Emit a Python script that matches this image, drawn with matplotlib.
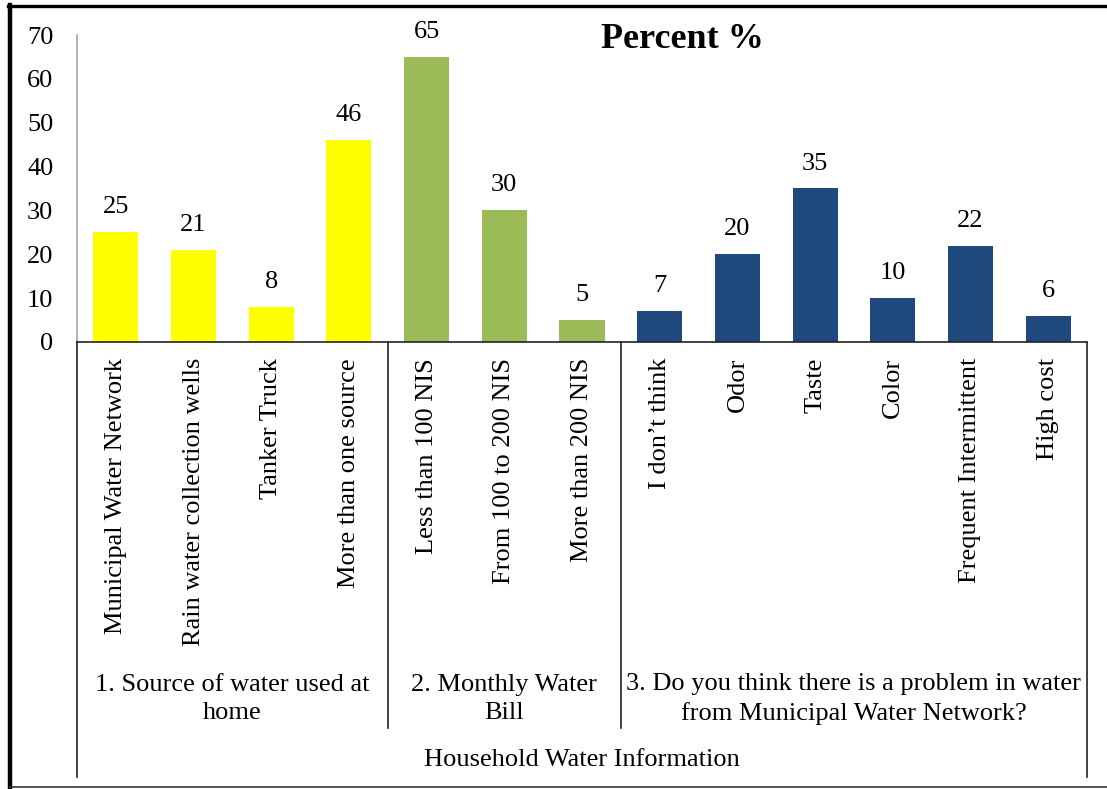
import matplotlib
matplotlib.use("Agg")
import matplotlib.pyplot as plt
import matplotlib.transforms as mtransforms
from matplotlib.lines import Line2D
import numpy as np

plt.rcParams["font.family"] = ["Liberation Serif", "DejaVu Serif"]

# ── Data ─────────────────────────────────────────────────────────────────────
categories = [
    "Municipal Water Network", "Rain water collection wells", "Tanker Truck",
    "More than one source",
    "Less than 100 NIS", "From 100 to 200 NIS", "More than 200 NIS",
    "I don’t think", "Odor", "Taste", "Color", "Frequent Intermittent", "High cost",
]
values = [25, 21, 8, 46, 65, 30, 5, 7, 20, 35, 10, 22, 6]
group_names = [
    "1. Source of water used at\nhome",
    "2. Monthly Water\nBill",
    "3. Do you think there is a problem in water\nfrom Municipal Water Network?",
]
group_sizes = [4, 3, 6]
group_colors = ["#FFFF00", "#9BBB59", "#1F497D"]
top_label = "Household Water Information"
title = "Percent %"

FS = 19
W, H = 1107, 789
fig = plt.figure(figsize=(W / 100, H / 100), dpi=100)
ax = fig.add_axes([77 / W, 1 - 342 / H, 1010 / W, 307 / H])

colors = [c for c, n in zip(group_colors, group_sizes) for _ in range(n)]
x = np.arange(len(values))
ax.bar(x, values, width=0.58, color=colors, zorder=2)
for xi, v in zip(x, values):
    ax.annotate(str(v), (xi, v), xytext=(0, 18), textcoords="offset points",
                ha="center", va="center", fontsize=FS)

ax.set_xlim(-0.5, len(values) - 0.5)
ax.set_ylim(0, 70)
ax.set_yticks(range(0, 71, 10))
ax.tick_params(axis="y", length=0, pad=17, labelsize=FS)
ax.set_xticks([])
ax.spines[["top", "right"]].set_visible(False)
ax.spines["left"].set_color("#A6A6A6")
ax.spines["left"].set_linewidth(1.2)
ax.spines["bottom"].set_color("#222222")
ax.spines["bottom"].set_linewidth(1.2)

# ── Multi-level category axis ───────────────────────────────────────────────
tr = mtransforms.blended_transform_factory(ax.transData, fig.transFigure)
y_axis = 1 - 342 / H
y_grp = 1 - 728 / H
y_out = 1 - 777 / H

for xi, lab in zip(x, categories):
    ax.text(xi, 1 - 358 / H, lab, transform=tr, rotation=90, ha="center",
            va="top", fontsize=FS)

edges = np.concatenate([[0], np.cumsum(group_sizes)]) - 0.5
for e in edges[1:-1]:
    fig.add_artist(Line2D([e, e], [y_axis, y_grp], transform=tr, color="#222222", lw=1.2))
for e in (edges[0], edges[-1]):
    fig.add_artist(Line2D([e, e], [y_axis, y_out], transform=tr, color="#222222", lw=1.2))

for lo, hi, name in zip(edges[:-1], edges[1:], group_names):
    ax.text((lo + hi) / 2, 1 - 699 / H, name, transform=tr, ha="center",
            va="center", fontsize=FS, linespacing=1.35)

ax.text((edges[0] + edges[-1]) / 2, 1 - 760 / H, top_label, transform=tr,
        ha="center", va="center", fontsize=FS)

fig.text(682 / W, 1 - 39 / H, title, ha="center", va="center", fontsize=26,
         fontweight="bold")

# ── Outer frame ─────────────────────────────────────────────────────────────
fig.add_artist(Line2D([10 / W, 10 / W], [1 - 5 / H, 1 - 787 / H],
                      transform=fig.transFigure, color="black", lw=3.2))
fig.add_artist(Line2D([8 / W, 1], [1 - 6 / H, 1 - 6 / H],
                      transform=fig.transFigure, color="black", lw=2.4))
fig.add_artist(Line2D([10 / W, 1], [1 - 787 / H, 1 - 787 / H],
                      transform=fig.transFigure, color="#333333", lw=1.2))

fig.savefig("out.png", dpi=100)
